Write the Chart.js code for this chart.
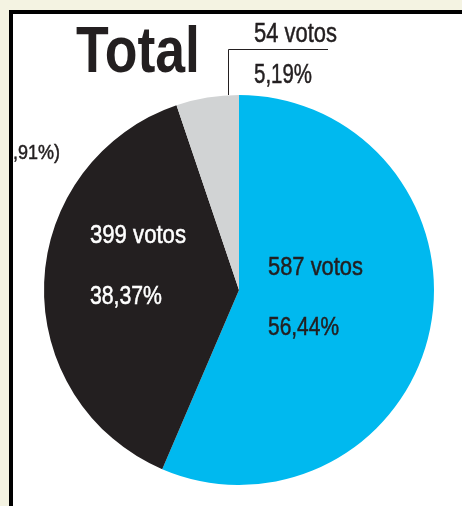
<!DOCTYPE html>
<html>
<head>
<meta charset="utf-8">
<script src="https://cdn.jsdelivr.net/npm/chart.js@4.4.1/dist/chart.umd.min.js"></script>
<style>
  html, body { margin: 0; padding: 0; background: #f4f3e2; }
  #wrap { position: relative; width: 462px; height: 506px; }
</style>
</head>
<body>
<div id="wrap"><canvas id="pieChart" width="462" height="506"></canvas></div>
<script>
const labels = ["Azul", "Preto", "Cinza"];
const votes = [587, 399, 54];
const shares = ["56,44%", "38,37%", "5,19%"];
const colors = ["#00b9ef", "#231f20", "#d1d3d4"];

const face = "'Liberation Sans', Arial, sans-serif";

// draw text squeezed to a given width (the original uses a condensed face)
function fitText(ctx, text, x, y, w, size, weight) {
  ctx.font = (weight || "normal") + " " + size + "px " + face;
  const m = ctx.measureText(text).width;
  ctx.save();
  ctx.translate(x, y);
  ctx.scale(w / m, 1);
  ctx.fillText(text, 0, 0);
  if (!weight) {
    // a touch heavier, like the print
    ctx.strokeStyle = ctx.fillStyle;
    ctx.lineWidth = 0.5;
    ctx.strokeText(text, 0, 0);
  }
  ctx.restore();
}

// frame + white card behind the chart
const framePlugin = {
  id: "frame",
  beforeDraw(chart) {
    const ctx = chart.ctx;
    ctx.save();
    ctx.fillStyle = "#f4f3e2";
    ctx.fillRect(0, 0, chart.width, chart.height);
    ctx.fillStyle = "#000";
    ctx.fillRect(9, 10, chart.width, chart.height);
    ctx.fillStyle = "#fff";
    ctx.fillRect(13, 14, chart.width, chart.height);
    ctx.restore();
  }
};

// title, slice labels and the callout
const textPlugin = {
  id: "texts",
  afterDraw(chart) {
    const ctx = chart.ctx;
    const arcs = chart.getDatasetMeta(0).data;
    ctx.save();
    ctx.textBaseline = "alphabetic";
    ctx.textAlign = "left";

    ctx.fillStyle = "#231f20";
    fitText(ctx, "Total", 76, 72, 124, 65, "bold");

    fitText(ctx, votes[2] + " votos", 254, 42, 83, 27);
    fitText(ctx, shares[2], 254, 83, 58, 27);

    // callout line to the small slice
    const top = arcs[2];
    ctx.strokeStyle = "#231f20";
    ctx.lineWidth = 1;
    ctx.beginPath();
    ctx.moveTo(328, 49.5);
    ctx.lineTo(228.5, 49.5);
    ctx.lineTo(228.5, top.y - top.outerRadius);
    ctx.stroke();

    fitText(ctx, ",91%)", 13, 159, 47, 21);

    ctx.fillStyle = "#ffffff";
    fitText(ctx, votes[1] + " votos", 90, 243, 96, 25);
    fitText(ctx, shares[1], 90, 304, 72, 25);

    ctx.fillStyle = "#231f20";
    fitText(ctx, votes[0] + " votos", 268, 275, 95, 25);
    fitText(ctx, shares[0], 268, 335, 71, 25);
    ctx.restore();
  }
};

new Chart(document.getElementById("pieChart"), {
  type: "pie",
  data: {
    labels: labels,
    datasets: [{
      data: votes,
      backgroundColor: colors,
      borderWidth: 0
    }]
  },
  options: {
    responsive: false,
    animation: false,
    layout: { padding: { left: 44, right: 28, top: 95, bottom: 21 } },
    plugins: {
      legend: { display: false },
      tooltip: { enabled: false }
    }
  },
  plugins: [framePlugin, textPlugin]
});
</script>
</body>
</html>
